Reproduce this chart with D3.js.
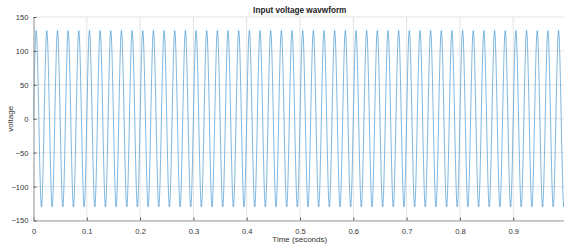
<!DOCTYPE html>
<html><head><meta charset="utf-8">
<script src="https://cdn.jsdelivr.net/npm/d3@7"></script>
<style>body{margin:0;background:#fff}svg{display:block}text{font-family:"Liberation Sans",Arial,sans-serif}</style>
</head><body><svg id="c" width="564" height="247"></svg>
<script>
// Time (s) of each extremum of the waveform (start and end included)
const time = [0,
0.005,0.015,0.025,0.035,0.045,0.055,0.065,0.075,0.085,0.095,
0.105,0.115,0.125,0.135,0.145,0.155,0.165,0.175,0.185,0.195,
0.205,0.215,0.225,0.235,0.245,0.255,0.265,0.275,0.285,0.295,
0.305,0.315,0.325,0.335,0.345,0.355,0.365,0.375,0.385,0.395,
0.405,0.415,0.425,0.435,0.445,0.455,0.465,0.475,0.485,0.495,
0.505,0.515,0.525,0.535,0.545,0.555,0.565,0.575,0.585,0.595,
0.605,0.615,0.625,0.635,0.645,0.655,0.665,0.675,0.685,0.695,
0.705,0.715,0.725,0.735,0.745,0.755,0.765,0.775,0.785,0.795,
0.805,0.815,0.825,0.835,0.845,0.855,0.865,0.875,0.885,0.895,
0.905,0.915,0.925,0.935,0.945,0.955,0.965,0.975,0.985,0.995,
0.999];
// Voltage at those points
const voltage = [0,
130,-130,130,-130,130,-130,130,-130,130,-130,
130,-130,130,-130,130,-130,130,-130,130,-130,
130,-130,130,-130,130,-130,130,-130,130,-130,
130,-130,130,-130,130,-130,130,-130,130,-130,
130,-130,130,-130,130,-130,130,-130,130,-130,
130,-130,130,-130,130,-130,130,-130,130,-130,
130,-130,130,-130,130,-130,130,-130,130,-130,
130,-130,130,-130,130,-130,130,-130,130,-130,
130,-130,130,-130,130,-130,130,-130,130,-130,
130,-130,130,-130,130,-130,130,-130,130,-130,
-40];
const xTicks = [0,0.1,0.2,0.3,0.4,0.5,0.6,0.7,0.8,0.9];
const yTicks = [-150,-100,-50,0,50,100,150];
const title = "Input voltage wavwform";
const xLabel = "Time (seconds)";
const yLabel = "voltage";

const svg = d3.select("#c");
const L = 33.5, R = 566, T = 17, B = 220.5;
const x = d3.scaleLinear().domain([0, 0.999]).range([L, R]);
const y = d3.scaleLinear().domain([-150, 150]).range([B, T]);

// grid
svg.append("g").selectAll("line").data(xTicks.slice(1)).join("line")
  .attr("x1", d => x(d)).attr("x2", d => x(d)).attr("y1", T).attr("y2", B)
  .attr("stroke", "#e4e4e4").attr("stroke-width", 1);
svg.append("g").selectAll("line").data(yTicks).join("line")
  .attr("x1", L).attr("x2", R).attr("y1", d => y(d)).attr("y2", d => y(d))
  .attr("stroke", "#e4e4e4").attr("stroke-width", 1);

// waveform
const pts = time.map((t, i) => [t, voltage[i]]);
const line = d3.line().x(d => x(d[0])).y(d => y(d[1])).curve(d3.curveMonotoneX);
svg.append("path").attr("d", line(pts)).attr("fill", "none")
  .attr("stroke", "#2b86c8").attr("stroke-width", 0.6);

// axes
const xa = svg.append("g").attr("transform", `translate(0,${B})`)
  .call(d3.axisBottom(x).tickValues(xTicks).tickSizeInner(-3).tickSizeOuter(0).tickPadding(8).tickFormat(d3.format("")));
const ya = svg.append("g").attr("transform", `translate(${L},0)`)
  .call(d3.axisLeft(y).tickValues(yTicks).tickSizeInner(-3).tickSizeOuter(0).tickPadding(5));
[xa, ya].forEach(g => {
  g.select(".domain").attr("stroke", "#a0a0a0").attr("stroke-width", 1.2);
  g.selectAll(".tick line").attr("stroke", "#555");
  g.selectAll("text").attr("font-size", 7.6).attr("fill", "#333").attr("font-family", "Liberation Sans, Arial, sans-serif");
});

svg.append("text").attr("x", (L + R) / 2).attr("y", 13).attr("text-anchor", "middle")
  .attr("font-size", 8.2).attr("font-weight", "bold").attr("fill", "#222").text(title);
svg.append("text").attr("x", (L + R) / 2).attr("y", 242).attr("text-anchor", "middle")
  .attr("font-size", 8).attr("fill", "#333").text(xLabel);
svg.append("text").attr("transform", `translate(13,${(T + B) / 2}) rotate(-90)`).attr("text-anchor", "middle")
  .attr("font-size", 8).attr("fill", "#333").text(yLabel);
</script></body></html>
